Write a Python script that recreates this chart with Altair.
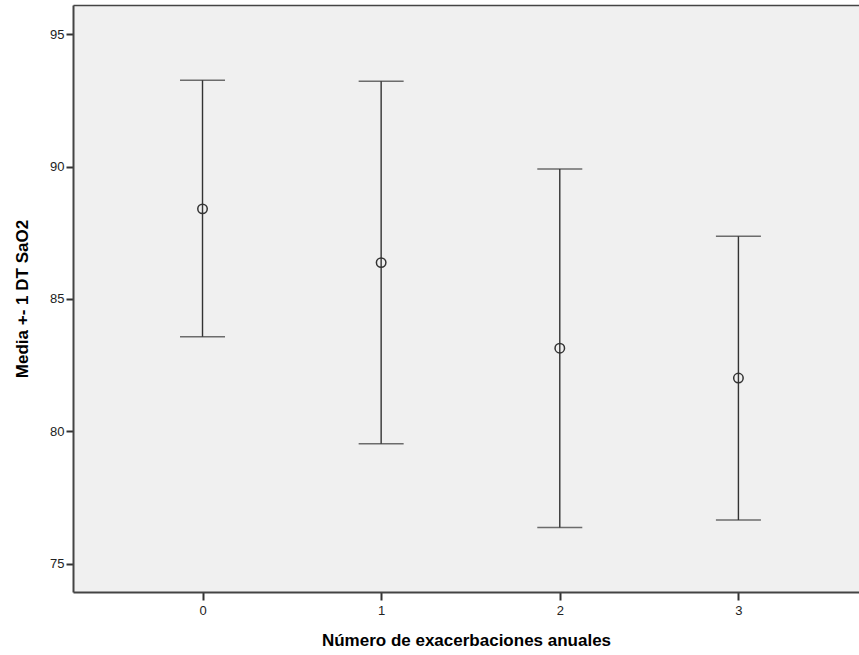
import altair as alt
import pandas as pd

categories = [0, 1, 2, 3]
means = [88.40, 86.37, 83.14, 82.01]
lower = [83.57, 79.53, 76.37, 76.65]
upper = [93.26, 93.22, 89.91, 87.37]

df = pd.DataFrame({"cat": categories, "mean": means, "lower": lower, "upper": upper})

FONT = "Liberation Sans"
DARK = "#333333"

x_scale = alt.Scale(domain=[-0.725, 3.675], nice=False, zero=False)
y_scale = alt.Scale(domain=[73.93, 96.1], nice=False, zero=False)

x_axis = alt.Axis(
    values=[0, 1, 2, 3], format="d", title="Número de exacerbaciones anuales",
    grid=False, tickSize=8, tickColor="#333", tickWidth=2, labelPadding=4,
    labelFont=FONT, labelFontSize=13, labelColor="#222",
    domainColor="#444", domainWidth=2,
    titleFont=FONT, titleFontSize=17, titleFontWeight="bold", titleColor="#000",
    titleY=48, titleBaseline="middle",
)
y_axis = alt.Axis(
    values=[75, 80, 85, 90, 95], title="Media +- 1 DT SaO2",
    grid=False, tickSize=7, tickColor="#333", tickWidth=2, labelPadding=2,
    labelFont=FONT, labelFontSize=13, labelColor="#222",
    domainColor="#444", domainWidth=2,
    titleFont=FONT, titleFontSize=17, titleFontWeight="bold", titleColor="#000",
    titleX=-51, titleBaseline="middle",
)

base = alt.Chart(df)

rules = base.mark_rule(color=DARK, strokeWidth=1.4).encode(
    x=alt.X("cat:Q", scale=x_scale, axis=x_axis),
    y=alt.Y("lower:Q", scale=y_scale, axis=y_axis),
    y2="upper:Q",
)
cap_low = base.mark_tick(orient="horizontal", size=45, thickness=1.5, color=DARK).encode(
    x=alt.X("cat:Q", scale=x_scale, axis=None),
    y=alt.Y("lower:Q", scale=y_scale),
)
cap_up = base.mark_tick(orient="horizontal", size=45, thickness=1.5, color=DARK).encode(
    x=alt.X("cat:Q", scale=x_scale, axis=None),
    y=alt.Y("upper:Q", scale=y_scale),
)
points = base.mark_point(shape="circle", filled=False, size=90, color=DARK, strokeWidth=1.5, opacity=1).encode(
    x=alt.X("cat:Q", scale=x_scale, axis=None),
    y=alt.Y("mean:Q", scale=y_scale),
)
top = base.mark_point(opacity=0).encode(
    x=alt.X("cat:Q", scale=x_scale, axis=alt.Axis(orient="top", labels=False, ticks=False,
                                                  title=None, grid=False,
                                                  domainColor="#444", domainWidth=1.5)),
    y=alt.Y("mean:Q", scale=y_scale),
)

chart = alt.layer(rules, cap_low, cap_up, points, top).resolve_axis(x="independent").properties(
    width=786, height=587,
    autosize=alt.AutoSizeParams(type="none"),
    padding={"left": 73, "top": 5, "right": 0, "bottom": 63},
    background="white",
).configure_view(fill="#f0f0f0", stroke=None)

chart.save("out.html", embed_options={"renderer": "svg", "actions": False})
